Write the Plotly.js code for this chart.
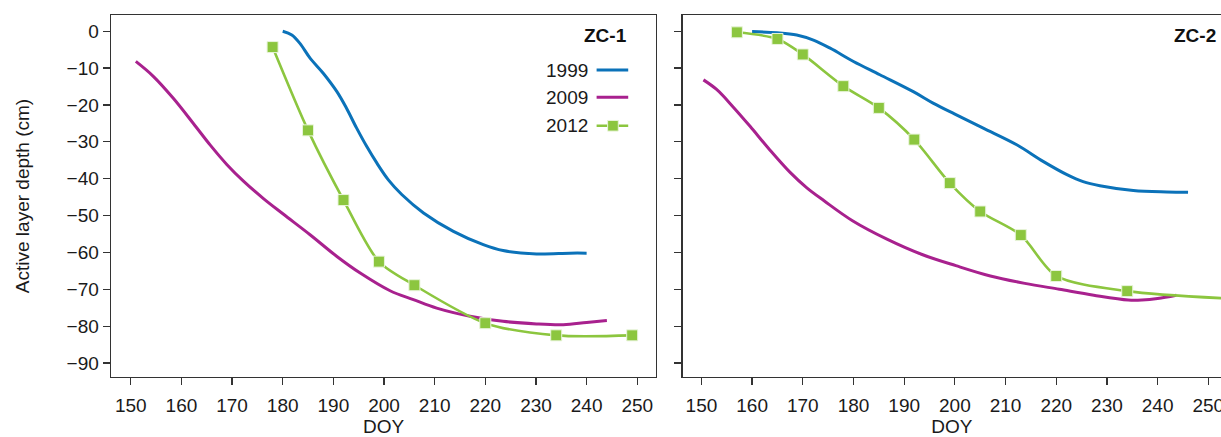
<!DOCTYPE html>
<html>
<head>
<meta charset="utf-8">
<script src="https://cdn.plot.ly/plotly-3.0.1.min.js"></script>
<style>
  html, body { margin: 0; padding: 0; background: #fff; }
  #chart { width: 1221px; height: 437px; }
</style>
</head>
<body>
<div id="chart"></div>
<script>
// ---- Data ----
// ZC-1
const zc1_1999_doy = [180, 181.8, 183.4, 185.4, 188, 190.7, 192.6, 194.6, 196.6, 198.6, 200.9, 203.5, 207.8, 213.7, 219.6, 223.5, 230.1, 236.7, 240];
const zc1_1999_val = [0, -1, -3.3, -7.3, -11.4, -16.4, -20.9, -26.3, -31.3, -35.8, -40.4, -44.3, -49.3, -54.3, -57.9, -59.5, -60.4, -60.2, -60.2];

const zc1_2009_doy = [151, 154.5, 158.4, 162.4, 165.7, 169, 172.2, 176.2, 180.1, 185.4, 190.7, 195.3, 201.2, 205.8, 210.4, 217, 223.5, 230.1, 235.4, 240, 244];
const zc1_2009_val = [-8.2, -12.3, -18.2, -25.1, -30.9, -36.2, -40.6, -45.4, -49.6, -55.2, -61.1, -65.6, -70.4, -72.8, -75.1, -77.3, -78.7, -79.4, -79.6, -79, -78.5];

const zc1_2012_doy = [178, 185, 192, 199, 206, 220, 234, 249];
const zc1_2012_val = [-4.3, -26.9, -45.8, -62.5, -68.9, -79.2, -82.5, -82.5];

// ZC-2
const zc2_1999_doy = [160, 164.9, 168.8, 172.1, 175.4, 180, 185.2, 191.8, 195.7, 200, 205.6, 212.2, 217.4, 222.1, 225.3, 228.6, 235.2, 241.8, 246];
const zc2_1999_val = [-0.1, -0.4, -1.0, -2.4, -4.6, -8.2, -11.8, -16.4, -19.5, -22.5, -26.3, -30.8, -35.3, -38.9, -40.8, -41.9, -43.2, -43.6, -43.7];

const zc2_2009_doy = [150.4, 153, 156.3, 159.6, 163.5, 167.5, 170.8, 174.2, 179.8, 186.6, 193.4, 200.2, 207, 213.8, 220.6, 227.4, 234.2, 236.9, 240, 243.7];
const zc2_2009_val = [-13.2, -15.8, -20.6, -25.8, -32.2, -38.3, -42.5, -46, -51.4, -56.4, -60.5, -63.6, -66.4, -68.4, -70, -71.6, -72.9, -72.9, -72.5, -71.6];

const zc2_2012_doy = [157, 165, 170, 178, 185, 192, 199, 205, 213, 220, 234, 258];
const zc2_2012_val = [-0.3, -2.1, -6.3, -14.9, -20.8, -29.4, -41.2, -48.9, -55.3, -66.4, -70.5, -72.8];

const years = ['1999', '2009', '2012'];
const panelLabels = ['ZC-1', 'ZC-2'];
const xTicks = [150, 160, 170, 180, 190, 200, 210, 220, 230, 240, 250];
const yTicks = [0, -10, -20, -30, -40, -50, -60, -70, -80, -90];

// ---- Styles ----
const C1999 = '#0b72b9';
const C2009 = '#a8218e';
const C2012 = '#8cc63f';
const FRAME = '#333333';
const FONT = 'Arial, "Liberation Sans", Helvetica, sans-serif';

function lineTrace(x, y, color, xa, ya, withMarkers) {
  const t = {
    x: x, y: y, xaxis: xa, yaxis: ya, type: 'scatter',
    mode: withMarkers ? 'lines+markers' : 'lines',
    line: { color: color, width: withMarkers ? 2.6 : 3, shape: 'spline', smoothing: withMarkers ? 0.8 : 1 },
    showlegend: false, hoverinfo: 'skip'
  };
  if (withMarkers) {
    t.marker = { symbol: 'square', size: 11, color: color, line: { color: '#e8f4da', width: 1 } };
  }
  return t;
}

const data = [
  lineTrace(zc1_1999_doy, zc1_1999_val, C1999, 'x', 'y', false),
  lineTrace(zc1_2009_doy, zc1_2009_val, C2009, 'x', 'y', false),
  lineTrace(zc1_2012_doy, zc1_2012_val, C2012, 'x', 'y', true),
  lineTrace(zc2_1999_doy, zc2_1999_val, C1999, 'x2', 'y2', false),
  lineTrace(zc2_2009_doy, zc2_2009_val, C2009, 'x2', 'y2', false),
  lineTrace(zc2_2012_doy, zc2_2012_val, C2012, 'x2', 'y2', true)
];

const tickFont = { family: FONT, size: 19, color: '#1a1a1a' };
const titleFont = { family: FONT, size: 19, color: '#1a1a1a' };

const xCommon = {
  tickmode: 'array', tickvals: xTicks, ticktext: xTicks.map(String),
  ticks: 'outside', ticklen: 7, tickwidth: 1.2, tickcolor: FRAME,
  ticklabelstandoff: 4, ticklabeloverflow: 'allow',
  showline: true, linecolor: FRAME, linewidth: 1.4, mirror: true,
  showgrid: false, zeroline: false, tickfont: tickFont,
  title: { text: 'DOY', font: titleFont, standoff: 8 }
};
const yCommon = {
  tickmode: 'array', tickvals: yTicks,
  ticks: 'outside', ticklen: 7, tickwidth: 1.2, tickcolor: FRAME,
  showline: true, linecolor: FRAME, linewidth: 1.4,
  showgrid: false, zeroline: false, tickfont: tickFont,
  range: [-93.8, 4.4]
};

// legend built from annotations + shapes (text left, symbol right)
const legColors = [C1999, C2009, C2012];
const legY = [0.848, 0.773, 0.694];
const annotations = [];
const shapes = [];
years.forEach((yr, i) => {
  annotations.push({
    xref: 'x domain', yref: 'y domain', x: 0.878, y: legY[i],
    xanchor: 'right', yanchor: 'middle', showarrow: false,
    text: yr, font: { family: FONT, size: 19, color: '#1a1a1a' }
  });
  shapes.push({
    type: 'line', xref: 'x domain', yref: 'y domain',
    x0: 0.891, x1: 0.949, y0: legY[i], y1: legY[i],
    line: { color: legColors[i], width: i === 2 ? 2.6 : 3 }
  });
});
shapes.push({
  type: 'rect', xref: 'x domain', yref: 'y domain',
  x0: 0.921 - 0.0098, x1: 0.921 + 0.0098, y0: legY[2] - 0.0147, y1: legY[2] + 0.0147,
  fillcolor: C2012, line: { color: '#e8f4da', width: 1 }
});
annotations.push({
  xref: 'x domain', yref: 'y domain', x: 0.951, y: 0.944,
  xanchor: 'right', yanchor: 'middle', showarrow: false,
  text: '<b>' + panelLabels[0] + '</b>', font: { family: FONT, size: 19, color: '#111' }
});
annotations.push({
  xref: 'x2 domain', yref: 'y2 domain', x: 0.994, y: 0.944,
  xanchor: 'right', yanchor: 'middle', showarrow: false,
  text: '<b>' + panelLabels[1] + '</b>', font: { family: FONT, size: 19, color: '#111' }
});

const layout = {
  width: 1221, height: 437,
  margin: { l: 111, r: 0, t: 15, b: 60, pad: 0 },
  paper_bgcolor: '#ffffff', plot_bgcolor: '#ffffff',
  font: { family: FONT, color: '#1a1a1a' },
  showlegend: false,
  xaxis: Object.assign({}, xCommon, { domain: [0, 0.491], range: [146.1, 253.7], anchor: 'y' }),
  yaxis: Object.assign({}, yCommon, {
    anchor: 'x', mirror: true,
    title: { text: 'Active layer depth (cm)', font: titleFont, standoff: 32 }
  }),
  xaxis2: Object.assign({}, xCommon, { domain: [0.515, 1], range: [146.3, 252.5], anchor: 'y2' }),
  yaxis2: Object.assign({}, yCommon, { anchor: 'x2', mirror: false, showticklabels: false }),
  annotations: annotations,
  shapes: shapes
};

Plotly.newPlot('chart', data, layout, { displayModeBar: false, staticPlot: true });
</script>
</body>
</html>
